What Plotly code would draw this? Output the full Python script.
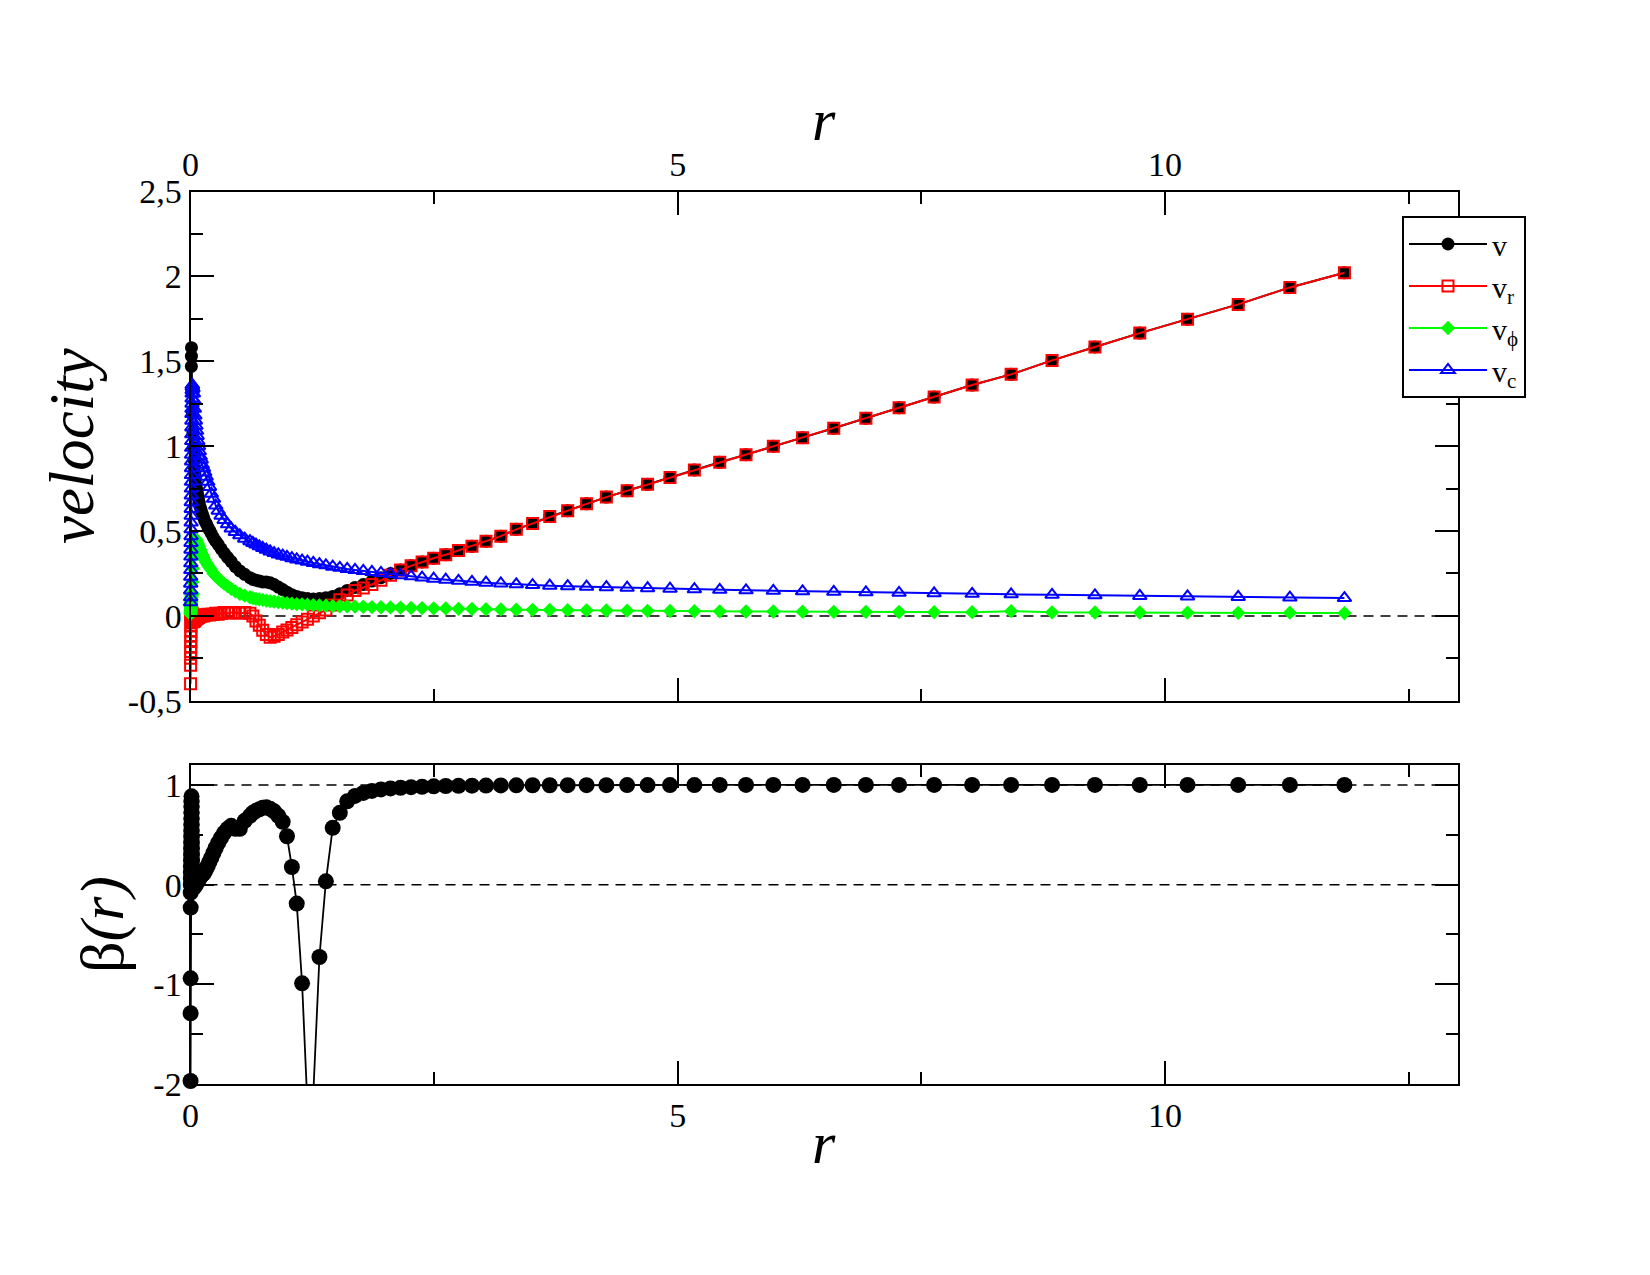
import plotly.graph_objects as go

# ---------------- data ----------------
r = [0.0005, 0.001, 0.0015, 0.002, 0.0025, 0.003, 0.0035, 0.004, 0.0045, 0.005,
     0.0055, 0.006, 0.0065, 0.007, 0.0075, 0.008, 0.0085, 0.009, 0.0095, 0.01,
     0.0105, 0.011, 0.0115, 0.012, 0.0125, 0.013, 0.0135, 0.014, 0.0145, 0.015,
     0.0155, 0.016, 0.0165, 0.017, 0.0175, 0.018,
     0.02, 0.025, 0.03, 0.035, 0.04, 0.045, 0.05, 0.056, 0.062, 0.068, 0.075, 0.082, 0.09,
     0.1, 0.11, 0.121, 0.133, 0.146, 0.161, 0.177, 0.195, 0.214, 0.236,
     0.259, 0.285, 0.314, 0.345, 0.38, 0.418, 0.46, 0.506, 0.556, 0.61,
     0.64, 0.672, 0.706, 0.741, 0.778, 0.817, 0.858, 0.901, 0.946, 0.99,
     1.04, 1.09, 1.145, 1.2, 1.26, 1.323, 1.389, 1.459, 1.532, 1.608,
     1.688, 1.773, 1.861, 1.954, 2.052, 2.155, 2.263, 2.376, 2.495, 2.619,
     2.75, 2.888, 3.032, 3.184, 3.343, 3.51, 3.686, 3.87, 4.064, 4.267,
     4.48, 4.69, 4.92, 5.17, 5.43, 5.70, 5.98, 6.28, 6.60, 6.93,
     7.27, 7.63, 8.02, 8.42, 8.84, 9.28, 9.74, 10.23, 10.75, 11.28, 11.84]

v = [None, None, None, None, None, None, None, None, None, None,
     None, None, None, None, None, None, None, 1.47, 1.53, 1.58,
     None, None, None, None, None, None, None, None, None, None,
     None, None, None, None, None, None,
     1.2, 1.08, 0.99, 0.92, 0.87, 0.83, 0.80, 0.77, 0.75, 0.73, 0.71, 0.69, 0.665,
     0.64, 0.62, 0.60, 0.58, 0.56, 0.545, 0.525, 0.505, 0.485, 0.46,
     0.44, 0.42, 0.395, 0.37, 0.345, 0.32, 0.29, 0.265, 0.245, 0.225,
     0.215, 0.21, 0.205, 0.20, 0.20, 0.195, 0.185, 0.17, 0.155, 0.14,
     0.125, 0.115, 0.107, 0.102, 0.10, 0.102, 0.107, 0.115, 0.13, 0.15,
     0.168, 0.185, 0.205, 0.225, 0.25, 0.27, 0.295, 0.318, 0.34, 0.36,
     0.385, 0.41, 0.44, 0.47, 0.51, 0.545, 0.585, 0.62, 0.66, 0.70,
     0.737, 0.775, 0.815, 0.86, 0.905, 0.95, 1.0, 1.05, 1.105, 1.165,
     1.226, 1.289, 1.36, 1.423, 1.505, 1.584, 1.666, 1.748, 1.835, 1.935, 2.021]

v_r = [-0.40, -0.29, -0.25, -0.21, -0.18, -0.15, -0.12, -0.09, -0.06, -0.04,
       -0.02, 0.0, 0.01, 0.015, 0.02, 0.015, 0.01, 0.0, -0.01, -0.02,
       -0.03, -0.02, -0.01, 0.0, 0.01, 0.015, 0.02, 0.015, 0.01, 0.0,
       -0.01, -0.02, -0.03, -0.03, -0.025, -0.02,
       -0.02, -0.03, -0.035, -0.03, -0.03, -0.025, -0.02, -0.02, -0.015, -0.015, -0.01, -0.01, -0.005,
       0.0, 0.0, 0.005, 0.0, 0.005, 0.005, 0.01, 0.005, 0.01, 0.01,
       0.015, 0.01, 0.015, 0.02, 0.015, 0.02, 0.02, 0.015, 0.02, 0.015,
       0.0, -0.03, -0.055, -0.085, -0.11, -0.125, -0.12, -0.11, -0.095, -0.083,
       -0.068, -0.052, -0.036, -0.02, 0.0, 0.018, 0.035, 0.065, 0.095, 0.123,
       0.15, 0.165, 0.185, 0.21, 0.24, 0.27, 0.295, 0.318, 0.34, 0.36,
       0.385, 0.41, 0.44, 0.47, 0.51, 0.545, 0.585, 0.62, 0.66, 0.70,
       0.737, 0.775, 0.815, 0.86, 0.905, 0.95, 1.0, 1.05, 1.105, 1.165,
       1.226, 1.289, 1.36, 1.423, 1.505, 1.584, 1.666, 1.748, 1.835, 1.935, 2.021]

v_phi = [0.01, 0.015, 0.02, 0.025, 0.03, 0.035, 0.04, 0.045, 0.05, 0.055,
         0.06, 0.065, 0.07, 0.075, 0.08, 0.085, 0.09, 0.095, 0.10, 0.105,
         0.11, 0.115, 0.12, 0.125, 0.13, 0.13, 0.13, 0.13, 0.13, 0.13,
         0.13, 0.13, 0.13, 0.13, 0.13, 0.13,
         0.2, 0.28, 0.35, 0.40, 0.43, 0.45, 0.455, 0.45, 0.44, 0.43, 0.425, 0.415, 0.405,
         0.39, 0.375, 0.36, 0.345, 0.33, 0.315, 0.30, 0.285, 0.27, 0.25,
         0.235, 0.22, 0.205, 0.19, 0.175, 0.16, 0.145, 0.13, 0.12, 0.11,
         0.105, 0.10, 0.097, 0.094, 0.09, 0.087, 0.084, 0.081, 0.078, 0.075,
         0.072, 0.07, 0.068, 0.066, 0.064, 0.062, 0.06, 0.058, 0.057, 0.056,
         0.055, 0.054, 0.052, 0.051, 0.05, 0.049, 0.047, 0.046, 0.045, 0.044,
         0.042, 0.041, 0.04, 0.038, 0.037, 0.036, 0.035, 0.034, 0.033, 0.032,
         0.031, 0.03, 0.029, 0.028, 0.027, 0.026, 0.026, 0.025, 0.024, 0.024,
         0.023, 0.022, 0.022, 0.028, 0.021, 0.02, 0.02, 0.019, 0.018, 0.019, 0.017]

v_c = [0.08, 0.11, 0.15, 0.19, 0.23, 0.27, 0.31, 0.35, 0.39, 0.43,
       0.47, 0.51, 0.55, 0.59, 0.63, 0.67, 0.71, 0.75, 0.79, 0.83,
       0.87, 0.91, 0.95, 0.99, 1.03, 1.07, 1.11, 1.15, 1.19, 1.22,
       1.25, 1.28, 1.31, 1.33, 1.35, 1.36,
       1.36, 1.34, 1.31, 1.27, 1.22, 1.18, 1.15, 1.12, 1.09, 1.06, 1.03, 1.0, 0.97,
       0.94, 0.92, 0.89, 0.87, 0.845, 0.82, 0.79, 0.76, 0.72, 0.69,
       0.65, 0.62, 0.59, 0.565, 0.54, 0.515, 0.495, 0.475, 0.455, 0.44,
       0.43, 0.42, 0.41, 0.40, 0.39, 0.38, 0.37, 0.362, 0.355, 0.348,
       0.34, 0.333, 0.326, 0.319, 0.312, 0.305, 0.298, 0.29, 0.283, 0.277,
       0.271, 0.265, 0.259, 0.253, 0.247, 0.24, 0.233, 0.226, 0.219, 0.213,
       0.207, 0.201, 0.196, 0.191, 0.186, 0.182, 0.178, 0.175, 0.172, 0.169,
       0.166, 0.163, 0.16, 0.157, 0.154, 0.151, 0.148, 0.145, 0.142, 0.139,
       0.136, 0.133, 0.13, 0.127, 0.124, 0.121, 0.118, 0.115, 0.112, 0.108, 0.105]

beta = [-1.97, -1.29, -0.94, -0.23, -0.08, 0.0, 0.06, 0.12, 0.18, 0.24,
        0.30, 0.36, 0.42, 0.48, 0.54, 0.60, 0.66, 0.72, 0.78, 0.83,
        0.886, 0.84, 0.78, 0.72, 0.66, 0.60, 0.54, 0.48, 0.42, 0.36,
        0.30, 0.24, 0.18, 0.12, 0.08, 0.05,
        0.02, 0.0, -0.02, -0.03, 0.0, 0.02, -0.01, 0.01, 0.03, 0.02, 0.04, 0.05, 0.06,
        0.08, 0.09, 0.10, 0.11, 0.13, 0.16, 0.19, 0.23, 0.27, 0.32,
        0.37, 0.42, 0.47, 0.52, 0.56, 0.59, 0.56, 0.56, 0.64, 0.69,
        0.72, 0.74, 0.755, 0.77, 0.775, 0.76, 0.735, 0.69, 0.63, 0.485,
        0.177, -0.19, -0.99, -2.22, -2.1, -0.726, 0.033, 0.57, 0.72, 0.836,
        0.89, 0.92, 0.94, 0.955, 0.965, 0.972, 0.978, 0.982, 0.986, 0.989,
        0.991, 0.993, 0.994, 0.995, 0.996, 0.997, 0.997, 0.998, 0.998, 0.998,
        0.999, 0.999, 0.999, 0.999, 1.0, 1.0, 1.0, 1.0, 1.0, 1.0,
        1.0, 1.0, 1.0, 1.0, 1.0, 1.0, 1.0, 1.0, 1.0, 1.0, 1.0]

x_ticks = [0, 5, 10]
x_ticklabels = ["0", "5", "10"]
x_minor = [2.5, 7.5, 12.5]
y_ticks = [-0.5, 0, 0.5, 1, 1.5, 2, 2.5]
y_ticklabels = ["-0,5", "0", "0,5", "1", "1,5", "2", "2,5"]
y_minor = [-0.25, 0.25, 0.75, 1.25, 1.75, 2.25]
b_ticks = [-2, -1, 0, 1]
b_ticklabels = ["-2", "-1", "0", "1"]
b_minor = [-1.5, -0.5, 0.5]

# ---------------- figure ----------------
FONT = "Liberation Serif"
W, H = 1650, 1275
xdom = [190.5 / W, 1457.5 / W]
ydom_top = [1 - 700.8 / H, 1 - 191.5 / H]
ydom_bot = [1 - 1084.0 / H, 1 - 765.0 / H]
xmid = (xdom[0] + xdom[1]) / 2

fig = go.Figure()

series = [
    ("v", v, "black", dict(symbol="circle", size=13, color="black")),
    ("v<sub>r</sub>", v_r, "#ff0000",
     dict(symbol="square-open", size=11, color="#ff0000", line=dict(width=2, color="#ff0000"))),
    ("v<sub>ϕ</sub>", v_phi, "#00ff00", dict(symbol="diamond", size=11, color="#00ff00")),
    ("v<sub>c</sub>", v_c, "#0000ff",
     dict(symbol="triangle-up-open", size=12, color="#0000ff", line=dict(width=2, color="#0000ff"))),
]
for name, ys, col, mk in series:
    fig.add_trace(go.Scatter(
        x=r, y=ys, name=name, mode="lines+markers",
        line=dict(color=col, width=2), marker=mk,
        connectgaps=True, cliponaxis=False, xaxis="x", yaxis="y"))

fig.add_trace(go.Scatter(
    x=r, y=beta, name="β", mode="lines+markers", showlegend=False,
    line=dict(color="black", width=1.8), marker=dict(symbol="circle", size=16, color="black"),
    cliponaxis=False, xaxis="x2", yaxis="y2"))

axis_common = dict(
    showgrid=False, zeroline=False, showline=True, linecolor="black", linewidth=2,
    mirror="ticks", ticks="inside", ticklen=23, tickwidth=2, tickcolor="black",
    tickfont=dict(family=FONT, size=34, color="black"), automargin=False,
)
minor_common = dict(ticks="inside", ticklen=12, tickwidth=2, tickcolor="black", showgrid=False)

fig.update_layout(
    template="none",
    width=W, height=H, autosize=False,
    margin=dict(l=0, r=0, t=0, b=0),
    paper_bgcolor="white", plot_bgcolor="white",
    font=dict(family=FONT, color="black"),
    xaxis=dict(axis_common, domain=xdom, anchor="y", side="top", range=[0, 13],
               tickmode="array", tickvals=x_ticks, ticktext=x_ticklabels,
               minor=dict(minor_common, tickmode="array", tickvals=x_minor)),
    yaxis=dict(axis_common, domain=ydom_top, anchor="x", range=[-0.5, 2.5],
               tickmode="array", tickvals=y_ticks, ticktext=y_ticklabels,
               minor=dict(minor_common, tickmode="array", tickvals=y_minor),
               title=dict(text="<i>velocity</i>", font=dict(family=FONT, size=63), standoff=14)),
    xaxis2=dict(axis_common, domain=xdom, anchor="y2", side="bottom", range=[0, 13],
                tickmode="array", tickvals=x_ticks, ticktext=x_ticklabels,
                minor=dict(minor_common, tickmode="array", tickvals=x_minor)),
    yaxis2=dict(axis_common, domain=ydom_bot, anchor="x2", range=[-2, 1.2],
                tickmode="array", tickvals=b_ticks, ticktext=b_ticklabels,
                minor=dict(minor_common, tickmode="array", tickvals=b_minor),
                title=dict(text="β<i>(r)</i>", font=dict(family=FONT, size=62), standoff=10)),
    annotations=[
        dict(text="<i>r</i>", xref="paper", yref="paper", x=xmid, y=1 - 120 / H,
             xanchor="center", yanchor="middle", showarrow=False,
             font=dict(family=FONT, size=60, color="black")),
        dict(text="<i>r</i>", xref="paper", yref="paper", x=xmid, y=1 - 1143 / H,
             xanchor="center", yanchor="middle", showarrow=False,
             font=dict(family=FONT, size=60, color="black")),
    ],
    showlegend=True,
    legend=dict(x=1402 / W, y=1 - 216 / H, xanchor="left", yanchor="top",
                bgcolor="white", bordercolor="black", borderwidth=2,
                itemwidth=78, entrywidth=48,
                font=dict(family=FONT, size=30, color="black"), tracegroupgap=0),
    shapes=[
        dict(type="line", xref="x domain", yref="y", x0=0, x1=1, y0=0, y1=0,
             line=dict(color="black", width=1.5, dash="10px,7px"), layer="below"),
        dict(type="line", xref="x2 domain", yref="y2", x0=0, x1=1, y0=0, y1=0,
             line=dict(color="black", width=1.5, dash="10px,7px"), layer="below"),
        dict(type="line", xref="x2 domain", yref="y2", x0=0, x1=1, y0=1, y1=1,
             line=dict(color="black", width=1.5, dash="10px,7px"), layer="below"),
    ],
)

fig.write_html("out.html")
